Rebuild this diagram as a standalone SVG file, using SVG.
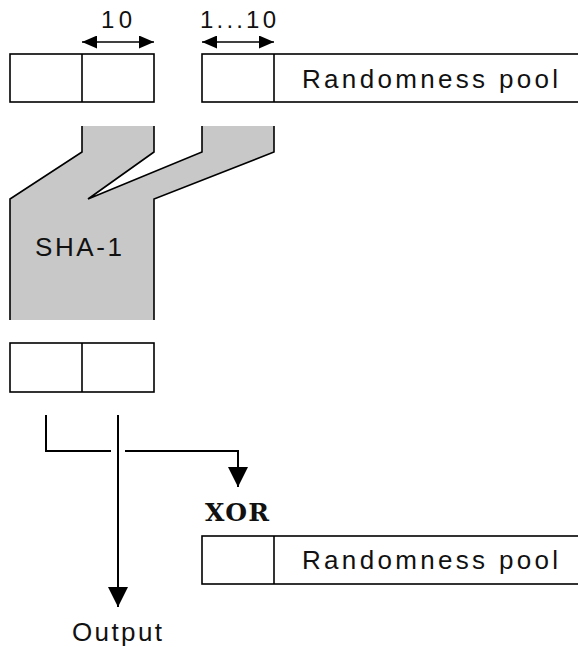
<svg xmlns="http://www.w3.org/2000/svg" width="578" height="647" viewBox="0 0 578 647">
<defs>
<style>
.box{fill:#fff;stroke:#000;stroke-width:1.6}
.ln{fill:none;stroke:#000;stroke-width:1.6}
.con{fill:none;stroke:#000;stroke-width:2}
.t{font-family:"Liberation Sans",Arial,Helvetica,sans-serif;font-size:26px;fill:#111}
.d{font-family:"Liberation Sans",Arial,Helvetica,sans-serif;font-size:24px;fill:#111}
.x{font-family:"DejaVu Serif","Liberation Serif",serif;font-weight:bold;font-size:25px;fill:#111}
</style>
<marker id="ah" viewBox="0 0 15 13" refX="15" refY="6.5" markerWidth="15" markerHeight="13" markerUnits="userSpaceOnUse" orient="auto-start-reverse">
<path d="M0,0 L15,6.5 L0,13 Z" fill="#000"/>
</marker>
<marker id="ad" viewBox="0 0 20 20" refX="20" refY="10" markerWidth="20" markerHeight="20" markerUnits="userSpaceOnUse" orient="auto">
<path d="M0,0 L20,10 L0,20 Z" fill="#000"/>
</marker>
</defs>
<rect width="578" height="647" fill="#fff"/>

<g id="input-block">
<rect class="box" x="10" y="54" width="144" height="48"/>
<line class="ln" x1="82" y1="54" x2="82" y2="102"/>
</g>

<g id="pool-top">
<rect class="box" x="202" y="54" width="380" height="48"/>
<line class="ln" x1="274" y1="54" x2="274" y2="102"/>
<text class="t" x="302" y="88" textLength="256" lengthAdjust="spacing">Randomness pool</text>
</g>

<g id="dim-10">
<line class="ln" x1="82" y1="42" x2="154" y2="42" marker-start="url(#ah)" marker-end="url(#ah)"/>
<text class="d" x="101" y="28" textLength="31" lengthAdjust="spacing">10</text>
</g>

<g id="dim-1-10">
<line class="ln" x1="202" y1="42" x2="274" y2="42" marker-start="url(#ah)" marker-end="url(#ah)"/>
<text class="d" x="200" y="28" textLength="76" lengthAdjust="spacing">1...10</text>
</g>

<g id="sha1">
<polygon fill="#c8c8c8" points="82,126 154,126 154,152 88,199 202,152 202,126 274,126 274,152 154,199 154,320 10,320 10,199 82,152"/>
<polyline class="ln" points="82,126 82,152 10,199 10,320"/>
<polyline class="ln" points="154,126 154,152 88,199 202,152 202,126"/>
<polyline class="ln" points="274,126 274,152 154,199 154,320"/>
<text class="t" x="35" y="256" textLength="87" lengthAdjust="spacing">SHA-1</text>
</g>

<g id="hash-out">
<rect class="box" x="10" y="343" width="144" height="49"/>
<line class="ln" x1="82" y1="343" x2="82" y2="392"/>
</g>

<g id="connectors">
<polyline class="con" points="46,415 46,451 111,451"/>
<polyline class="con" points="125,451 238,451 238,487" marker-end="url(#ad)"/>
<line class="con" x1="118" y1="415" x2="118" y2="607" marker-end="url(#ad)"/>
</g>

<g id="xor">
<text class="x" x="205" y="521" textLength="64" lengthAdjust="spacing">XOR</text>
</g>

<g id="pool-bottom">
<rect class="box" x="202" y="536" width="380" height="48"/>
<line class="ln" x1="274" y1="536" x2="274" y2="584"/>
<text class="t" x="302" y="569" textLength="256" lengthAdjust="spacing">Randomness pool</text>
</g>

<g id="output">
<text class="t" x="72" y="641" textLength="90" lengthAdjust="spacing">Output</text>
</g>
</svg>
